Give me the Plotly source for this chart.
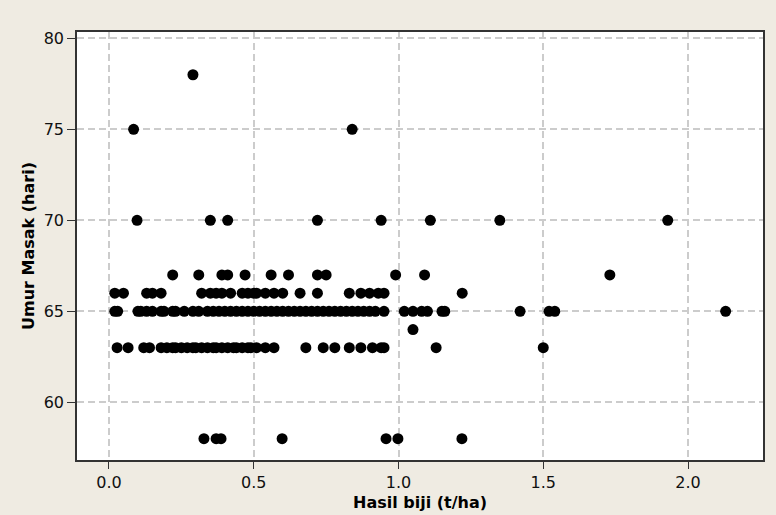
import plotly.graph_objects as go

# Hasil biji (t/ha) grouped by Umur Masak (hari)
x_78 = [0.29]
x_75 = [0.085, 0.84]
x_70 = [0.097, 0.35, 0.41, 0.72, 0.94, 1.11, 1.35, 1.93]
x_67 = [0.22, 0.31, 0.39, 0.41, 0.47, 0.56, 0.62, 0.72, 0.75, 0.99, 1.09, 1.73]
x_66 = [0.02, 0.05, 0.13, 0.15, 0.18, 0.32, 0.35, 0.37, 0.39, 0.42, 0.46, 0.48,
        0.50, 0.51, 0.54, 0.57, 0.60, 0.66, 0.72, 0.83, 0.87, 0.90, 0.93, 0.95, 1.22]
x_65 = [0.02, 0.03, 0.10, 0.11, 0.13, 0.15, 0.18, 0.19, 0.22, 0.23, 0.26, 0.29,
        0.31, 0.34, 0.36, 0.38, 0.40, 0.42, 0.44, 0.46, 0.48, 0.50, 0.52, 0.54,
        0.56, 0.58, 0.60, 0.62, 0.64, 0.66, 0.68, 0.70, 0.72, 0.74, 0.76, 0.78,
        0.80, 0.82, 0.84, 0.86, 0.88, 0.90, 0.92, 0.95, 1.02, 1.05, 1.08, 1.10,
        1.15, 1.16, 1.42, 1.52, 1.54, 2.13]
x_64 = [1.05]
x_63 = [0.028, 0.066, 0.12, 0.14, 0.18, 0.20, 0.22, 0.23, 0.25, 0.27, 0.29, 0.30,
        0.32, 0.34, 0.36, 0.37, 0.39, 0.41, 0.43, 0.44, 0.46, 0.48, 0.49, 0.51,
        0.54, 0.57, 0.68, 0.74, 0.78, 0.83, 0.87, 0.91, 0.94, 0.95, 1.13, 1.50]
x_58 = [0.328, 0.37, 0.387, 0.598, 0.957, 0.998, 1.219]

groups = [(78, x_78), (75, x_75), (70, x_70), (67, x_67), (66, x_66),
          (65, x_65), (64, x_64), (63, x_63), (58, x_58)]

xs, ys = [], []
for yv, xl in groups:
    xs += xl
    ys += [yv] * len(xl)

x_ticks = [0.0, 0.5, 1.0, 1.5, 2.0]
x_tick_labels = ["0.0", "0.5", "1.0", "1.5", "2.0"]
y_ticks = [60, 65, 70, 75, 80]

BG = "#EFEBE2"
FONT = "DejaVu Sans, Verdana, sans-serif"

fig = go.Figure(go.Scatter(
    x=xs, y=ys, mode="markers",
    marker=dict(color="black", size=11, line=dict(width=0)),
    showlegend=False,
))

axis_common = dict(
    showline=True, linecolor="#333333", linewidth=1.5, mirror=True,
    ticks="outside", tickcolor="#333333", tickwidth=1,
    showgrid=True, gridcolor="#CCCCCC", griddash="7px,4px", gridwidth=1.5,
    zeroline=False, tickfont=dict(family=FONT, size=16, color="#111111"),
)

fig.update_xaxes(range=[-0.1105, 2.259], tickvals=x_ticks, ticktext=x_tick_labels,
                 ticklen=7, **axis_common)
fig.update_yaxes(range=[56.83, 80.35], tickvals=y_ticks, ticklen=8, **axis_common)

fig.update_layout(
    width=776, height=515,
    margin=dict(l=77, r=13, t=32, b=55),
    paper_bgcolor=BG, plot_bgcolor="white",
    annotations=[
        dict(text="<b>Hasil biji (t/ha)</b>", xref="paper", yref="paper",
             x=0.5, y=0, yshift=-42, showarrow=False, yanchor="middle",
             font=dict(family=FONT, size=16, color="black")),
        dict(text="<b>Umur Masak (hari)</b>", xref="paper", yref="paper",
             x=0, xshift=-49, y=0.5, showarrow=False, textangle=-90,
             xanchor="center", font=dict(family=FONT, size=16, color="black")),
    ],
)

fig.write_html(
    "out.html",
    config={"displayModeBar": False},
    post_script="document.body.style.margin='0px';document.body.style.overflow='hidden';",
)
